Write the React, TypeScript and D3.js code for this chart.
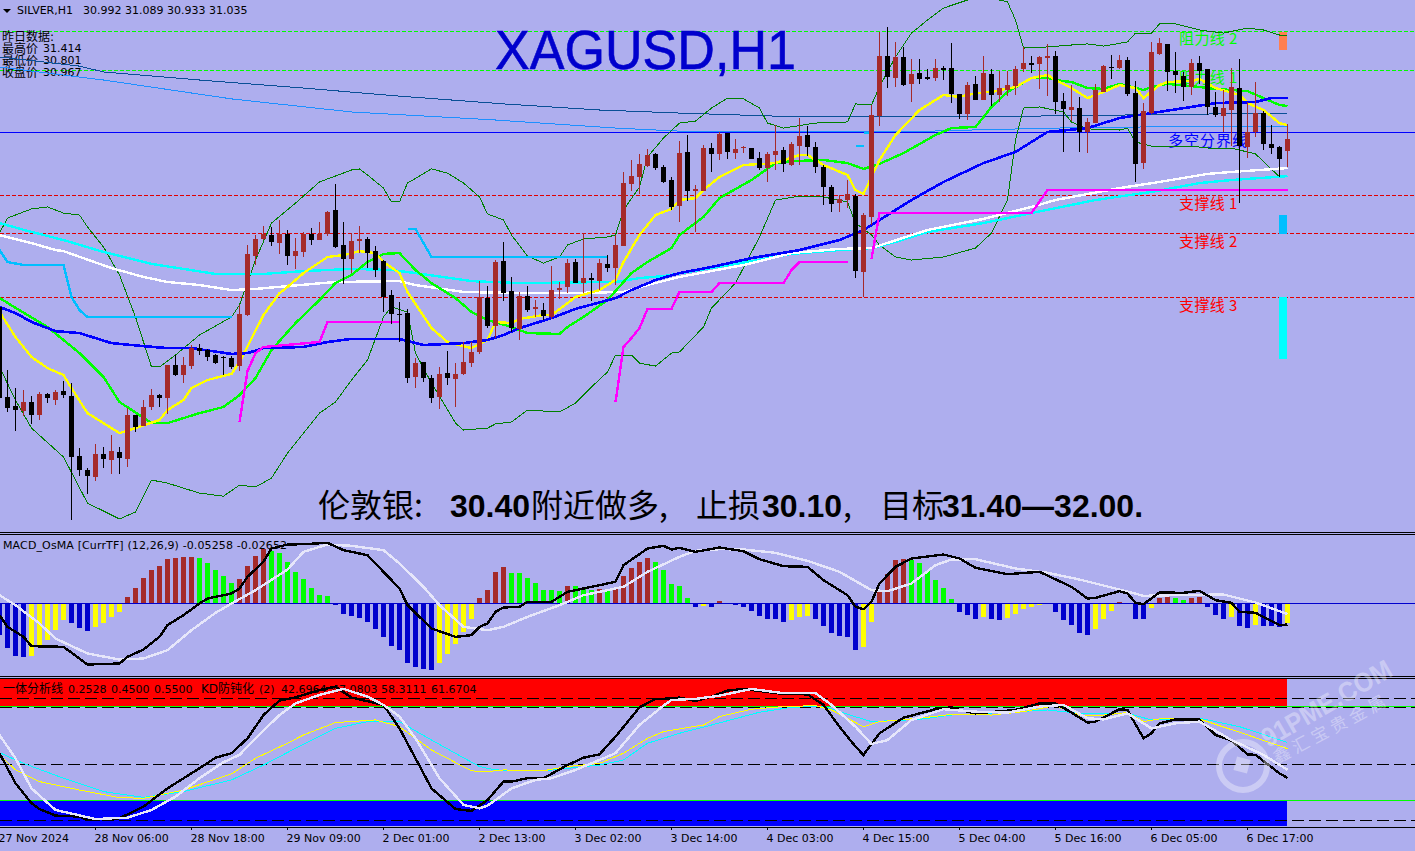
import React, { useEffect, useRef } from 'react';
import * as d3 from 'd3';

type Pt = [number, number];

// hourly candles, one value per bar
const opens = [
  30.430, 30.106, 30.073, 30.055, 30.088, 30.041, 30.117, 30.095, 30.127, 30.109,
  29.893, 29.843, 29.818, 29.901, 29.879, 29.908, 29.883, 30.041, 30.001, 30.070,
  30.113, 30.102, 30.221, 30.185, 30.217, 30.282, 30.275, 30.257, 30.250, 30.246,
  30.217, 30.401, 30.613, 30.675, 30.689, 30.660, 30.693, 30.613, 30.628, 30.693,
  30.671, 30.693, 30.779, 30.653, 30.603, 30.667, 30.675, 30.631, 30.595, 30.473,
  30.405, 30.408, 30.178, 30.232, 30.174, 30.106, 30.192, 30.171, 30.189, 30.228,
  30.268, 30.462, 30.361, 30.595, 30.487, 30.351, 30.469, 30.423, 30.419, 30.394,
  30.491, 30.502, 30.592, 30.516, 30.534, 30.523, 30.585, 30.570, 30.649, 30.873,
  30.898, 30.937, 30.981, 30.934, 30.887, 30.793, 30.988, 30.847, 30.847, 31.002,
  30.981, 31.056, 30.984, 31.002, 31.002, 30.966, 30.930, 30.977, 30.995, 30.941,
  31.009, 31.049, 31.006, 30.934, 30.862, 30.804, 30.815, 30.829, 30.556, 30.754,
  31.117, 31.333, 31.254, 31.330, 31.233, 31.272, 31.258, 31.254, 31.290, 31.290,
  31.197, 31.125, 31.233, 31.175, 31.269, 31.193, 31.211, 31.225, 31.287, 31.308,
  31.305, 31.326, 31.333, 31.171, 31.139, 31.146, 31.060, 31.092, 31.204, 31.294,
  31.290, 31.319, 31.200, 30.948, 31.128, 31.341, 31.377, 31.279, 31.261, 31.222,
  31.308, 31.287, 31.150, 31.117, 31.139, 31.218, 31.006, 31.060, 31.128, 31.017,
  31.006, 30.992,
];
const highs = [
  30.437, 30.203, 30.138, 30.131, 30.109, 30.124, 30.120, 30.131, 30.163, 30.156,
  29.922, 29.850, 29.937, 29.926, 29.969, 29.926, 30.066, 30.041, 30.095, 30.135,
  30.117, 30.221, 30.257, 30.250, 30.293, 30.297, 30.279, 30.261, 30.253, 30.253,
  30.437, 30.653, 30.689, 30.721, 30.718, 30.743, 30.707, 30.678, 30.700, 30.714,
  30.736, 30.775, 30.873, 30.736, 30.696, 30.721, 30.682, 30.649, 30.599, 30.491,
  30.448, 30.423, 30.246, 30.232, 30.185, 30.214, 30.271, 30.228, 30.304, 30.304,
  30.523, 30.505, 30.599, 30.664, 30.538, 30.484, 30.505, 30.455, 30.444, 30.577,
  30.520, 30.603, 30.603, 30.696, 30.552, 30.603, 30.617, 30.689, 30.916, 30.959,
  30.981, 30.999, 30.984, 30.941, 30.898, 31.027, 31.049, 30.869, 31.013, 31.020,
  31.060, 31.056, 31.035, 31.009, 31.002, 30.988, 30.988, 31.085, 31.006, 31.024,
  31.110, 31.081, 31.024, 30.941, 30.869, 30.833, 30.887, 30.837, 30.768, 31.157,
  31.420, 31.438, 31.384, 31.366, 31.323, 31.323, 31.287, 31.323, 31.297, 31.380,
  31.197, 31.240, 31.261, 31.333, 31.287, 31.279, 31.279, 31.297, 31.366, 31.333,
  31.333, 31.377, 31.351, 31.200, 31.229, 31.186, 31.110, 31.233, 31.301, 31.337,
  31.337, 31.330, 31.243, 31.164, 31.384, 31.398, 31.377, 31.348, 31.276, 31.323,
  31.333, 31.287, 31.204, 31.211, 31.290, 31.323, 31.168, 31.240, 31.135, 31.085,
  31.009, 31.089,
];
const lows = [
  30.095, 30.052, 29.983, 30.037, 30.009, 30.023, 30.084, 30.077, 30.102, 29.663,
  29.821, 29.757, 29.803, 29.850, 29.829, 29.829, 29.854, 29.980, 30.001, 30.059,
  30.070, 30.045, 30.181, 30.156, 30.207, 30.257, 30.235, 30.225, 30.185, 30.207,
  30.199, 30.397, 30.581, 30.671, 30.649, 30.621, 30.581, 30.567, 30.610, 30.653,
  30.671, 30.685, 30.642, 30.513, 30.552, 30.624, 30.570, 30.538, 30.412, 30.369,
  30.304, 30.156, 30.138, 30.160, 30.084, 30.063, 30.149, 30.070, 30.185, 30.214,
  30.261, 30.354, 30.318, 30.451, 30.340, 30.311, 30.412, 30.394, 30.383, 30.387,
  30.459, 30.480, 30.516, 30.480, 30.451, 30.491, 30.556, 30.509, 30.649, 30.847,
  30.837, 30.934, 30.923, 30.876, 30.779, 30.736, 30.811, 30.700, 30.847, 30.916,
  30.959, 30.963, 30.963, 30.984, 30.963, 30.923, 30.880, 30.923, 30.916, 30.937,
  30.941, 30.973, 30.912, 30.797, 30.772, 30.772, 30.786, 30.534, 30.466, 30.725,
  31.081, 31.218, 31.222, 31.225, 31.168, 31.233, 31.247, 31.243, 31.247, 31.164,
  31.107, 31.103, 31.175, 31.175, 31.153, 31.168, 31.189, 31.193, 31.276, 31.272,
  31.215, 31.189, 31.125, 30.988, 31.099, 30.988, 30.984, 31.092, 31.204, 31.251,
  31.287, 31.189, 30.880, 30.927, 31.125, 31.337, 31.207, 31.200, 31.171, 31.193,
  31.233, 31.121, 31.114, 31.060, 31.009, 30.804, 30.966, 31.042, 30.995, 30.981,
  30.898, 30.933,
];
const closes = [
  30.102, 30.066, 30.059, 30.088, 30.041, 30.117, 30.102, 30.124, 30.113, 29.890,
  29.843, 29.821, 29.901, 29.883, 29.911, 29.886, 30.041, 29.998, 30.070, 30.113,
  30.102, 30.221, 30.185, 30.221, 30.282, 30.271, 30.250, 30.228, 30.250, 30.214,
  30.405, 30.621, 30.675, 30.693, 30.664, 30.693, 30.613, 30.631, 30.693, 30.671,
  30.693, 30.772, 30.646, 30.603, 30.667, 30.675, 30.624, 30.563, 30.466, 30.405,
  30.405, 30.174, 30.228, 30.174, 30.102, 30.189, 30.174, 30.189, 30.232, 30.268,
  30.466, 30.361, 30.592, 30.480, 30.354, 30.469, 30.419, 30.430, 30.397, 30.491,
  30.498, 30.588, 30.516, 30.534, 30.527, 30.588, 30.570, 30.653, 30.876, 30.901,
  30.945, 30.977, 30.930, 30.880, 30.790, 30.984, 30.847, 30.855, 31.002, 30.981,
  31.053, 30.988, 30.999, 31.006, 30.963, 30.930, 30.981, 30.991, 30.945, 31.017,
  31.045, 31.006, 30.934, 30.862, 30.801, 30.819, 30.837, 30.559, 30.761, 31.121,
  31.333, 31.258, 31.330, 31.229, 31.269, 31.251, 31.251, 31.290, 31.283, 31.197,
  31.125, 31.229, 31.175, 31.272, 31.193, 31.218, 31.229, 31.287, 31.308, 31.301,
  31.330, 31.333, 31.168, 31.143, 31.150, 31.060, 31.096, 31.211, 31.297, 31.290,
  31.319, 31.197, 30.945, 31.135, 31.348, 31.380, 31.276, 31.265, 31.222, 31.308,
  31.279, 31.150, 31.121, 31.146, 31.222, 31.009, 31.060, 31.128, 31.017, 31.002,
  30.963, 31.035,
];

// moving averages and bands, [bar, price]
const maYellow: Pt[] = [[0,30.412],[2,30.322],[4,30.250],[6,30.210],[8,30.185],[9,30.138],[11,30.048],[15,29.976],[17,29.994],[20,30.023],[21,30.059],[23,30.095],[24,30.138],[26,30.167],[29,30.189],[30,30.232],[33,30.401],[35,30.480],[36,30.502],[38,30.552],[41,30.610],[43,30.617],[45,30.631],[47,30.624],[48,30.592],[50,30.552],[51,30.484],[54,30.354],[56,30.304],[59,30.282],[61,30.311],[62,30.376],[64,30.372],[65,30.387],[68,30.401],[69,30.401],[71,30.444],[72,30.466],[75,30.491],[77,30.527],[78,30.592],[80,30.689],[82,30.761],[84,30.783],[85,30.815],[87,30.822],[88,30.851],[90,30.898],[93,30.941],[97,30.948],[100,30.977],[101,30.977],[103,30.941],[106,30.905],[107,30.851],[108,30.837],[110,30.959],[112,31.049],[115,31.139],[118,31.193],[120,31.186],[122,31.200],[124,31.204],[127,31.222],[129,31.254],[131,31.265],[132,31.247],[134,31.218],[136,31.182],[138,31.204],[140,31.229],[142,31.218],[143,31.182],[145,31.229],[146,31.240],[149,31.243],[150,31.251],[152,31.218],[155,31.193],[156,31.164],[158,31.139],[160,31.092],[161,31.085]];
const bbMiddle: Pt[] = [[0,30.462],[6,30.358],[10,30.264],[13,30.178],[15,30.088],[19,30.012],[21,30.012],[23,30.030],[25,30.048],[28,30.070],[30,30.113],[32,30.174],[34,30.275],[37,30.372],[40,30.455],[42,30.516],[44,30.545],[46,30.592],[48,30.621],[50,30.624],[52,30.563],[54,30.516],[57,30.462],[59,30.412],[61,30.383],[64,30.358],[66,30.336],[70,30.333],[71,30.358],[73,30.394],[76,30.455],[79,30.552],[81,30.592],[84,30.642],[85,30.689],[88,30.754],[90,30.822],[94,30.887],[97,30.948],[99,30.955],[103,30.959],[106,30.948],[108,30.927],[110,30.945],[113,30.984],[117,31.049],[119,31.074],[122,31.078],[124,31.150],[126,31.204],[129,31.254],[131,31.254],[133,31.243],[134,31.240],[136,31.218],[138,31.215],[140,31.233],[143,31.211],[144,31.222],[146,31.233],[149,31.225],[152,31.215],[156,31.207],[158,31.182],[160,31.157],[161,31.153]];
const maBlue: Pt[] = [[0,30.430],[2,30.408],[4,30.376],[6,30.354],[7,30.343],[10,30.336],[14,30.300],[18,30.289],[21,30.282],[24,30.282],[29,30.261],[31,30.264],[33,30.282],[38,30.286],[41,30.304],[44,30.315],[50,30.315],[53,30.293],[58,30.300],[61,30.311],[63,30.329],[65,30.354],[69,30.390],[72,30.423],[77,30.462],[79,30.491],[82,30.527],[85,30.552],[89,30.574],[94,30.606],[100,30.635],[105,30.671],[108,30.707],[114,30.815],[118,30.880],[123,30.948],[127,30.988],[129,31.024],[131,31.060],[136,31.074],[140,31.110],[144,31.128],[149,31.150],[152,31.164],[157,31.168],[159,31.182],[161,31.182]];
const maWhite: Pt[] = [[0,30.689],[4,30.660],[7,30.635],[8,30.631],[14,30.570],[18,30.538],[21,30.520],[25,30.509],[29,30.491],[32,30.495],[36,30.505],[42,30.520],[50,30.523],[52,30.509],[58,30.484],[65,30.480],[71,30.480],[78,30.484],[81,30.509],[85,30.538],[93,30.581],[99,30.624],[105,30.639],[109,30.642],[116,30.707],[123,30.747],[129,30.790],[132,30.815],[140,30.858],[145,30.880],[151,30.909],[154,30.916],[161,30.930]];
const maCyan: Pt[] = [[0,30.732],[4,30.700],[8,30.671],[13,30.628],[19,30.585],[27,30.549],[33,30.549],[38,30.559],[44,30.567],[49,30.563],[52,30.552],[59,30.523],[65,30.516],[77,30.520],[80,30.534],[83,30.541],[86,30.556],[89,30.570],[94,30.595],[99,30.621],[105,30.635],[109,30.642],[112,30.664],[116,30.700],[123,30.732],[129,30.768],[137,30.815],[144,30.844],[150,30.876],[154,30.887],[161,30.901]];
const maDark: Pt[] = [[0,31.330],[10,31.297],[13,31.276],[25,31.247],[38,31.218],[50,31.189],[63,31.161],[75,31.139],[85,31.128],[97,31.117],[113,31.117],[129,31.117],[161,31.128]];
const maDodger: Pt[] = [[0,31.294],[6,31.272],[13,31.247],[29,31.179],[44,31.132],[62,31.103],[77,31.074],[85,31.063],[97,31.061],[104,31.060],[113,31.060],[120,31.066],[132,31.074],[143,31.078],[161,31.081]];
const bbUpper: Pt[] = [[0,30.696],[1,30.750],[4,30.783],[6,30.790],[8,30.768],[10,30.761],[11,30.718],[13,30.646],[15,30.545],[17,30.394],[19,30.214],[20,30.214],[22,30.257],[25,30.329],[29,30.394],[30,30.437],[32,30.599],[34,30.732],[37,30.804],[40,30.880],[44,30.923],[45,30.927],[46,30.905],[48,30.858],[49,30.808],[50,30.808],[51,30.876],[54,30.927],[56,30.912],[58,30.876],[60,30.826],[61,30.765],[63,30.743],[64,30.689],[66,30.613],[68,30.588],[70,30.610],[71,30.653],[73,30.675],[76,30.682],[77,30.689],[78,30.779],[80,30.862],[81,30.970],[83,31.038],[85,31.092],[87,31.099],[89,31.146],[91,31.182],[93,31.179],[95,31.146],[96,31.092],[98,31.074],[102,31.092],[106,31.096],[107,31.161],[109,31.157],[110,31.222],[112,31.330],[114,31.416],[116,31.463],[118,31.506],[121,31.535],[124,31.542],[126,31.528],[127,31.463],[128,31.362],[131,31.366],[134,31.373],[136,31.377],[138,31.369],[141,31.384],[142,31.416],[144,31.416],[145,31.449],[147,31.449],[150,31.427],[153,31.416],[156,31.434],[158,31.427],[160,31.409],[161,31.405]];
const bbLower: Pt[] = [[0,30.214],[2,30.095],[4,29.994],[8,29.890],[11,29.724],[15,29.667],[17,29.692],[19,29.807],[21,29.796],[25,29.760],[28,29.749],[30,29.789],[32,29.782],[34,29.814],[36,29.904],[40,30.048],[42,30.088],[44,30.167],[46,30.239],[48,30.394],[49,30.430],[51,30.412],[52,30.264],[54,30.156],[57,30.012],[58,29.987],[61,29.994],[62,30.009],[64,30.016],[66,30.059],[70,30.052],[72,30.084],[74,30.142],[76,30.196],[77,30.257],[79,30.257],[80,30.228],[82,30.217],[84,30.264],[85,30.268],[88,30.358],[89,30.426],[92,30.516],[95,30.682],[97,30.815],[100,30.829],[103,30.826],[106,30.808],[107,30.732],[109,30.689],[110,30.653],[112,30.610],[114,30.599],[118,30.610],[122,30.642],[124,30.696],[126,30.815],[127,31.031],[128,31.146],[130,31.150],[133,31.132],[134,31.096],[136,31.071],[140,31.067],[141,31.074],[142,31.024],[144,31.009],[149,31.009],[152,30.999],[154,31.002],[157,30.981],[160,30.898],[161,30.898]];
// broken lines, one list per visible piece
const deepSkyPieces: Pt[][] = [
  [[0,30.635],[1,30.592],[3,30.581],[8,30.581],[9,30.466],[10,30.419],[11,30.394],[29,30.394]],
  [[51,30.711],[52,30.711],[54,30.610],[76,30.610]],
  [[107,31.009],[108,31.009]],
  [[108,31.056],[109,31.056]],
];
const magentaPieces: Pt[][] = [
  [[30,30.016],[31,30.199],[32,30.264],[33,30.286],[40,30.304],[41,30.376],[50,30.376]],
  [[77,30.088],[78,30.286],[79,30.318],[80,30.354],[81,30.423],[84,30.423],[85,30.484],[89,30.484],[90,30.516],[98,30.516],[99,30.563],[100,30.592],[106,30.592]],
  [[109,30.603],[110,30.768],[129,30.768],[131,30.851],[161,30.851]],
];

// horizontal levels
const resistanceLevels = [31.423, 31.282];
const supportLevels = [30.831, 30.693, 30.464];
const pivotLevel = 31.058;
const resistanceLabels = ['阻力线 2', '阻力线 1'];
const supportLabels = ['支撑线 1', '支撑线 2', '支撑线 3'];
const pivotLabel = '多空分界线';
const yesterdayHeading = '昨日数据:';
const yesterdayNames = ['最高价', '最低价', '收盘价'];
const yesterdayValues = ['31.414', '30.801', '30.967'];
// range blocks at the right edge, [from, to] prices
const rangeBlocks: Pt[] = [[31.420, 31.355], [30.761, 30.693], [30.466, 30.243]];

// MACD pane
const osma = [
  -.0792, -.1117, -.1317, -.1325, -.1317, -.1083, -.0917, -.0667, -.0417, -.0492,
  -.0617, -.0692, -.0592, -.0492, -.0342, -.0217, .0158, .0383, .0633, .0833,
  .0933, .1108, .1142, .1158, .1167, .1133, .1008, .0833, .0683, .0508,
  .0608, .0933, .1183, .1358, .1308, .1258, .1033, .0783, .0608, .0383,
  .0208, .0183, -.0033, -.0267, -.0317, -.0367, -.0467, -.0642, -.0842, -.1067,
  -.1167, -.1492, -.1592, -.1642, -.1667, -.1492, -.1267, -.1017, -.0717, -.0392,
  .0133, .0333, .0783, .0908, .0758, .0758, .0633, .0508, .0333, .0333,
  .0308, .0433, .0433, .0358, .0333, .0358, .0308, .0383, .0683, .0883,
  .1033, .1133, .1033, .0833, .0483, .0433, .0133, -.0092, -.0067, -.0075,
  .0058, 0, -.0042, -.0092, -.0192, -.0317, -.0392, -.0392, -.0467, -.0417,
  -.0342, -.0317, -.0392, -.0567, -.0742, -.0817, -.0842, -.1167, -.1092, -.0467,
  .0308, .0733, .1083, .1108, .1083, .1008, .0808, .0583, .0383, .0108,
  -.0217, -.0292, -.0392, -.0342, -.0392, -.0417, -.0367, -.0267, -.0142, -.0092,
  -.0042, 0, -.0217, -.0417, -.0542, -.0742, -.0792, -.0642, -.0392, -.0192,
  .0033, 0, -.0392, -.0392, -.0117, .0133, .0158, .0133, .0083, .0150,
  .0158, -.0092, -.0292, -.0392, -.0342, -.0567, -.0617, -.0542, -.0567, -.0567,
  -.0592, -.0492,
];
const macdLine: Pt[] = [[0,-.0292],[1,-.0583],[3,-.0833],[4,-.1067],[8,-.1083],[11,-.1525],[15,-.15],[16,-.1333],[18,-.115],[20,-.0833],[21,-.0542],[23,-.0292],[25,0],[26,.0125],[29,.025],[30,.0375],[31,.0667],[33,.1042],[34,.1375],[36,.1475],[38,.1483],[41,.1517],[43,.1333],[46,.1208],[47,.1],[49,.0583],[50,.0375],[51,-.0042],[54,-.0625],[57,-.0833],[59,-.0792],[60,-.0583],[61,-.05],[62,-.0208],[63,-.01],[65,-.0083],[66,.0042],[69,.0042],[71,.0292],[73,.0375],[75,.0458],[77,.0542],[78,.0958],[81,.1375],[83,.1442],[84,.135],[85,.1392],[87,.1292],[90,.14],[93,.1308],[95,.1108],[98,.0933],[101,.0917],[103,.0583],[105,.0333],[106,.0208],[107,-.0083],[108,-.0142],[109,.0042],[110,.05],[112,.0917],[114,.1125],[118,.1225],[120,.1125],[122,.0892],[126,.0733],[130,.0792],[134,.0417],[136,.0125],[137,.0142],[140,.0308],[141,.025],[142,.0017],[143,-.0017],[145,.0275],[148,.0267],[150,.0317],[152,.0083],[154,.0017],[155,-.0208],[157,-.0233],[160,-.0542],[161,-.05258]];
const macdSignal: Pt[] = [[0,.0208],[2,-.0042],[5,-.05],[7,-.0875],[11,-.125],[15,-.14],[18,-.1375],[21,-.1167],[24,-.0667],[27,-.0233],[29,0],[32,.0333],[36,.085],[38,.1292],[41,.1475],[44,.1442],[48,.1333],[50,.1],[53,.0417],[55,-.0042],[58,-.0583],[61,-.0667],[63,-.0583],[66,-.0333],[70,-.0042],[73,.0208],[78,.0417],[81,.0792],[85,.1167],[87,.1317],[90,.1358],[93,.135],[97,.1267],[101,.1067],[105,.0792],[109,.0333],[111,.0308],[114,.05],[117,.0958],[119,.11],[122,.1108],[127,.0875],[131,.0767],[135,.06],[140,.035],[143,.0192],[147,.0208],[153,.0225],[157,.0025],[161,-.02652]];
const macdLegend = 'MACD_OsMA [CurrTF] (12,26,9) -0.05258 -0.02652';

// KD pane
const kdBlack: Pt[] = [[0,55.85],[2,39.9],[4,29.3],[5,26.2],[7,22.7],[10,22.2],[11,20.4],[15,21.3],[18,27.5],[21,37.2],[25,47.9],[27,53.5],[29,55.9],[31,63.8],[33,76.2],[35,83.9],[37,85.6],[40,89.5],[42,91.3],[44,85.5],[48,81.6],[50,69.1],[52,53.2],[54,37.2],[57,26.2],[59,25.2],[61,31],[63,40.8],[64,40.8],[66,42.6],[68,42.6],[71,49.6],[73,53.5],[75,55.3],[77,64.7],[80,80.3],[82,84.8],[83,84.8],[85,85.5],[87,83.7],[89,86],[91,89.2],[93,90.1],[98,87.4],[101,87.2],[103,81.6],[105,70],[107,59.4],[108,55],[110,66.5],[113,74.8],[117,79.3],[119,80.3],[120,78.9],[122,77.1],[127,78.9],[130,82.4],[132,82.4],[134,77.5],[136,72.2],[137,72.7],[140,79.3],[141,78.9],[143,63.8],[144,66.5],[145,71.8],[147,73.9],[150,73.9],[152,65.6],[154,62.6],[156,55.3],[157,55],[160,45.2],[161,42.6964]];
const kdWhite: Pt[] = [[0,65.6],[2,53.2],[4,37.2],[7,25.7],[12,20.9],[16,21.6],[19,25.7],[22,32.8],[25,42.6],[28,51.1],[30,55],[32,63.8],[35,76.2],[37,82.4],[40,86.9],[43,90.1],[46,86],[48,81.6],[50,75.4],[52,63.8],[55,42.6],[58,28.4],[60,26.6],[61,28],[62,31],[64,37.2],[67,41.7],[69,42.6],[72,47],[75,52.3],[77,55.9],[80,70.9],[83,81.2],[84,84.2],[87,84.8],[90,86.5],[94,90.1],[98,87.8],[102,87.8],[104,81.6],[107,70],[109,60.8],[111,62.9],[114,73.6],[118,79.3],[122,78],[126,77.5],[130,80.7],[133,81.6],[136,74.5],[138,73.9],[141,77.1],[144,69.1],[147,71.8],[150,72.7],[154,62.9],[158,55],[161,47.0803]];
const kdYellow: Pt[] = [[0,55],[2,47],[5,40.8],[10,36.3],[15,32.3],[18,31.9],[23,36.3],[29,44.9],[32,53.2],[36,61.2],[38,65.6],[42,72.2],[47,73.6],[50,70],[54,57.6],[59,46.5],[61,46.1],[63,47],[68,46.6],[71,48.8],[75,50.5],[78,55.9],[81,63.8],[83,67.4],[88,70.9],[90,75.4],[94,79.3],[98,80.7],[102,81.2],[104,78.9],[108,70],[110,72.7],[115,74.5],[119,76.6],[124,76.2],[128,78],[132,81.2],[135,76.2],[138,76.2],[141,77.5],[143,72.7],[145,74.1],[150,74.1],[156,65.6],[161,58.3111]];
const kdCyan: Pt[] = [[0,56.2],[3,50.5],[8,42.6],[13,35.5],[18,32.4],[23,35.5],[29,41.7],[33,49.6],[37,58.5],[42,69.1],[46,72.7],[50,72.7],[54,62.9],[60,48.8],[62,47],[68,46.5],[75,49.6],[78,52.3],[81,61.2],[85,66.5],[89,70.9],[95,77.7],[99,80.3],[103,81],[106,76.6],[109,72.7],[115,73.9],[119,76.2],[126,77.7],[131,78.9],[135,77.1],[141,77.1],[144,73.6],[150,74.5],[155,70],[161,61.6704]];
const kdDashLevels = [85, 80, 50, 20];
const kdZoneLevels = [80.8, 30.8];
const kdLegendItems = ['一体分析线', '0.2528', '0.4500', '0.5500', 'KD防钝化', '(2)', '42.6964', '47.0803', '58.3111', '61.6704'];

// time axis
const timeTickBars = [0, 12, 24, 36, 48, 60, 72, 84, 96, 108, 120, 132, 144, 156];
const timeTickLabels = ['27 Nov 2024', '28 Nov 06:00', '28 Nov 18:00', '29 Nov 09:00', '2 Dec 01:00', '2 Dec 13:00', '3 Dec 02:00', '3 Dec 14:00', '4 Dec 03:00', '4 Dec 15:00', '5 Dec 04:00', '5 Dec 16:00', '6 Dec 05:00', '6 Dec 17:00'];

const W = 1415;
const H = 851;
const BG = '#aeaeee';
const UI_FONT = '"DejaVu Sans", "Noto Sans CJK SC", sans-serif';
const CJK_FONT = '"Noto Sans CJK SC", sans-serif';
const LATIN_BOLD = '"Liberation Sans", sans-serif';
const KD_LEGEND_X = [3, 68, 111, 154, 201, 259, 281, 332, 381, 431];

const x = d3.scaleLinear().domain([0, 161]).range([-1, 1287]);
const yMain = d3.scaleLinear().domain([31.535, 29.62]).range([0, 532]);
const yMacd = d3.scaleLinear().domain([0, -0.1]).range([603.5, 643.5]);
const yKd = d3.scaleLinear().domain([50, 0]).range([764.3, 858.3]);

const mainLine = d3.line<Pt>().x(d => x(d[0]) + 0.5).y(d => yMain(d[1]));
const macdPath = d3.line<Pt>().x(d => x(d[0]) + 0.5).y(d => yMacd(d[1]));
const kdPath = d3.line<Pt>().x(d => x(d[0]) + 0.5).y(d => yKd(d[1]));
// hold a level on one pixel row
const row = (y: number) => Math.floor(y) + 0.5;

const osmaColor = (i: number) => {
  const v = osma[i];
  const prev = i > 0 ? osma[i - 1] : 0;
  if (v > 0) return v > prev ? '#a52a2a' : '#00ff00';
  return v > prev ? '#ffff00' : '#0000cd';
};

function App() {
  const axisRef = useRef<SVGGElement>(null);

  useEffect(() => {
    const axis = d3.axisBottom(x)
      .tickValues(timeTickBars)
      .tickSize(3)
      .tickFormat((_, i) => timeTickLabels[i]);
    const g = d3.select(axisRef.current as SVGGElement).call(axis as any);
    g.select('.domain').remove();
    g.selectAll('.tick line').attr('stroke', '#000');
    g.selectAll('.tick text')
      .attr('text-anchor', 'start')
      .attr('x', -1)
      .attr('y', 7)
      .attr('fill', '#000')
      .style('font-family', UI_FONT)
      .style('font-size', '11px');
  }, []);

  return (
    <svg width={W} height={H} viewBox={`0 0 ${W} ${H}`} style={{ position: 'absolute', left: 0, top: 0, background: BG }}>
      <style>{'html,body{margin:0;overflow:hidden}'}</style>

      {/* horizontal levels and their labels */}
      <g shapeRendering="crispEdges" fill="none">
        {resistanceLevels.map(p => <line key={p} x1={0} x2={W} y1={row(yMain(p))} y2={row(yMain(p))} stroke="#00ff00" strokeDasharray="4 2" />)}
        {supportLevels.map(p => <line key={p} x1={0} x2={W} y1={row(yMain(p))} y2={row(yMain(p))} stroke="#e00000" strokeDasharray="4 2" />)}
      </g>
      <g fontFamily={CJK_FONT} fontSize={15}>
        {resistanceLabels.map((t, i) => <text key={t} x={1179} y={yMain(resistanceLevels[i]) + 13} fill="#00ff00" letterSpacing={0.4}>{t}</text>)}
        {supportLabels.map((t, i) => <text key={t} x={1179} y={yMain(supportLevels[i]) + 13} fill="#ff0000" letterSpacing={0.4}>{t}</text>)}
        <text x={1168} y={yMain(pivotLevel) + 13} fill="#0000ff" letterSpacing={1}>{pivotLabel}</text>
      </g>

      {/* range blocks */}
      <g shapeRendering="crispEdges">
        {rangeBlocks.map((b, i) => (
          <rect key={i} x={1279} width={8} y={yMain(b[0])} height={yMain(b[1]) - yMain(b[0])} fill={['#ff7f50', '#00bfff', '#00ffff'][i]} />
        ))}
      </g>

      {/* title and heading text */}
      <text x={495} y={69} fontFamily={LATIN_BOLD} fontSize={56} fill="#0000cd" stroke="#0000cd" strokeWidth={0.6} textLength={301} lengthAdjust="spacingAndGlyphs">XAGUSD,H1</text>
      <path d="M3 9 L11 9 L7 13 Z" fill="#000" />
      <text x={17} y={14} fontFamily={UI_FONT} fontSize={11} fill="#000">SILVER,H1</text>
      <text x={83} y={14} fontFamily={UI_FONT} fontSize={11} fill="#000">30.992 31.089 30.933 31.035</text>
      <g fontFamily={UI_FONT} fill="#000">
        <text x={2} y={41} fontSize={12}>{yesterdayHeading}</text>
        {yesterdayNames.map((t, i) => <text key={t} x={2} y={53 + i * 12} fontSize={12}>{t}</text>)}
        {yesterdayValues.map((t, i) => <text key={t} x={43} y={52 + i * 12} fontSize={11}>{t}</text>)}
      </g>

      {/* moving averages, bands and channels */}
      <g fill="none" shapeRendering="crispEdges">
        <path d={mainLine(maDark) as string} stroke="#0a4f96" />
        <path d={mainLine(maDodger) as string} stroke="#1e90ff" />
        <line x1={0} x2={W} y1={row(yMain(pivotLevel))} y2={row(yMain(pivotLevel))} stroke="#0000ff" />
        <path d={mainLine(bbUpper) as string} stroke="#008000" />
        <path d={mainLine(bbLower) as string} stroke="#008000" />
        {deepSkyPieces.map((s, i) => <path key={i} d={mainLine(s) as string} stroke="#00bfff" strokeWidth={2.4} />)}
        <path d={mainLine(maCyan) as string} stroke="#00ffff" strokeWidth={2.4} />
        <path d={mainLine(maWhite) as string} stroke="#ffffff" strokeWidth={2.4} />
        <path d={mainLine(bbMiddle) as string} stroke="#00ff00" strokeWidth={2.4} />
        <path d={mainLine(maYellow) as string} stroke="#ffff00" strokeWidth={2.4} />
        <path d={mainLine(maBlue) as string} stroke="#0000ff" strokeWidth={2.6} />
        {magentaPieces.map((s, i) => <path key={i} d={mainLine(s) as string} stroke="#ff00ff" strokeWidth={2.4} />)}
      </g>

      {/* candles */}
      <g shapeRendering="crispEdges">
        {opens.map((o, i) => {
          const c = closes[i];
          const color = c > o ? '#a52a2a' : '#000000';
          const top = yMain(Math.max(o, c));
          const bottom = yMain(Math.min(o, c));
          return (
            <g key={i} fill={color}>
              <rect x={x(i)} width={1} y={yMain(highs[i])} height={yMain(lows[i]) - yMain(highs[i])} />
              <rect x={x(i) - 2} width={5} y={top} height={Math.max(1, bottom - top)} />
            </g>
          );
        })}
      </g>

      {/* trade note */}
      <g fill="#000" fontSize={32}>
        {[
          [318, '伦敦银:', 0], [450, '30.40', 1], [531, '附近做多,', 0], [696, '止损', 0], [762, '30.10', 1], [843, ',', 0], [880, '目标', 0], [942, '31.40—32.00.', 1],
        ].map(([px, t, bold]) => (
          <text key={px as number} x={px as number} y={517} fontFamily={bold ? LATIN_BOLD : CJK_FONT} fontWeight={bold ? 700 : 400}>{t as string}</text>
        ))}
      </g>

      {/* pane separators */}
      <g shapeRendering="crispEdges" stroke="#000">
        <line x1={0} x2={W} y1={532.5} y2={532.5} />
        <line x1={0} x2={W} y1={534.5} y2={534.5} />
        <line x1={0} x2={W} y1={676.5} y2={676.5} />
        <line x1={0} x2={W} y1={678.5} y2={678.5} />
        <line x1={0} x2={W} y1={827.5} y2={827.5} />
      </g>

      {/* MACD pane */}
      <text x={3} y={549} fontFamily={UI_FONT} fontSize={11} fill="#000" textLength={284} lengthAdjust="spacing">{macdLegend}</text>
      <g shapeRendering="crispEdges">
        {osma.map((v, i) => v === 0 ? null : (
          <rect key={i} x={x(i) - 2} width={5} y={Math.min(yMacd(v), yMacd(0))} height={Math.abs(yMacd(v) - yMacd(0))} fill={osmaColor(i)} />
        ))}
        <line x1={0} x2={W} y1={yMacd(0)} y2={yMacd(0)} stroke="#0000cd" />
      </g>
      <g fill="none" shapeRendering="crispEdges" strokeWidth={2.4}>
        <path d={macdPath(macdSignal) as string} stroke="#e6e6fa" />
        <path d={macdPath(macdLine) as string} stroke="#000" />
      </g>

      {/* KD pane */}
      <g shapeRendering="crispEdges">
        <rect x={0} width={1287} y={679} height={Math.floor(yKd(kdZoneLevels[0])) - 679} fill="#ff0000" />
        <rect x={0} width={1287} y={Math.floor(yKd(kdZoneLevels[1]))} height={826 - Math.floor(yKd(kdZoneLevels[1]))} fill="#0000ff" />
        {kdDashLevels.map(l => <line key={l} x1={0} x2={W} y1={row(yKd(l))} y2={row(yKd(l))} stroke="#000" strokeDasharray="12 5" />)}
        {kdZoneLevels.map(l => <line key={l} x1={0} x2={W} y1={row(yKd(l))} y2={row(yKd(l))} stroke="#00ff00" />)}
      </g>
      <g fontFamily={UI_FONT} fill="#000">
        {kdLegendItems.map((t, i) => (
          <text key={t} x={KD_LEGEND_X[i]} y={693} fontSize={i === 0 || i === 4 ? 12 : 11}>{t}</text>
        ))}
      </g>
      <g fill="none" shapeRendering="crispEdges">
        <path d={kdPath(kdCyan) as string} stroke="#00ffff" />
        <path d={kdPath(kdYellow) as string} stroke="#ffff00" />
        <path d={kdPath(kdBlack) as string} stroke="#000" strokeWidth={2.4} />
        <path d={kdPath(kdWhite) as string} stroke="#e6e6fa" strokeWidth={2.4} />
      </g>

      <g ref={axisRef} transform="translate(0,827)" />

      {/* site watermark */}
      <g fill="#fff" fillOpacity={0.36}>
        <circle cx={1243} cy={766} r={24} fill="none" stroke="#fff" strokeOpacity={0.36} strokeWidth={6} />
        <rect x={1235} y={758} width={14} height={14} transform="rotate(15 1242 765)" />
        <text transform="translate(1268,748) rotate(-30)" fontFamily={LATIN_BOLD} fontWeight={700} fontSize={27} textLength={146} lengthAdjust="spacingAndGlyphs">91PME.COM</text>
        <text transform="translate(1277,764) rotate(-28)" fontFamily={CJK_FONT} fontSize={17} letterSpacing={4.5}>鑫汇宝贵金属</text>
      </g>
    </svg>
  );
}

export default App;
